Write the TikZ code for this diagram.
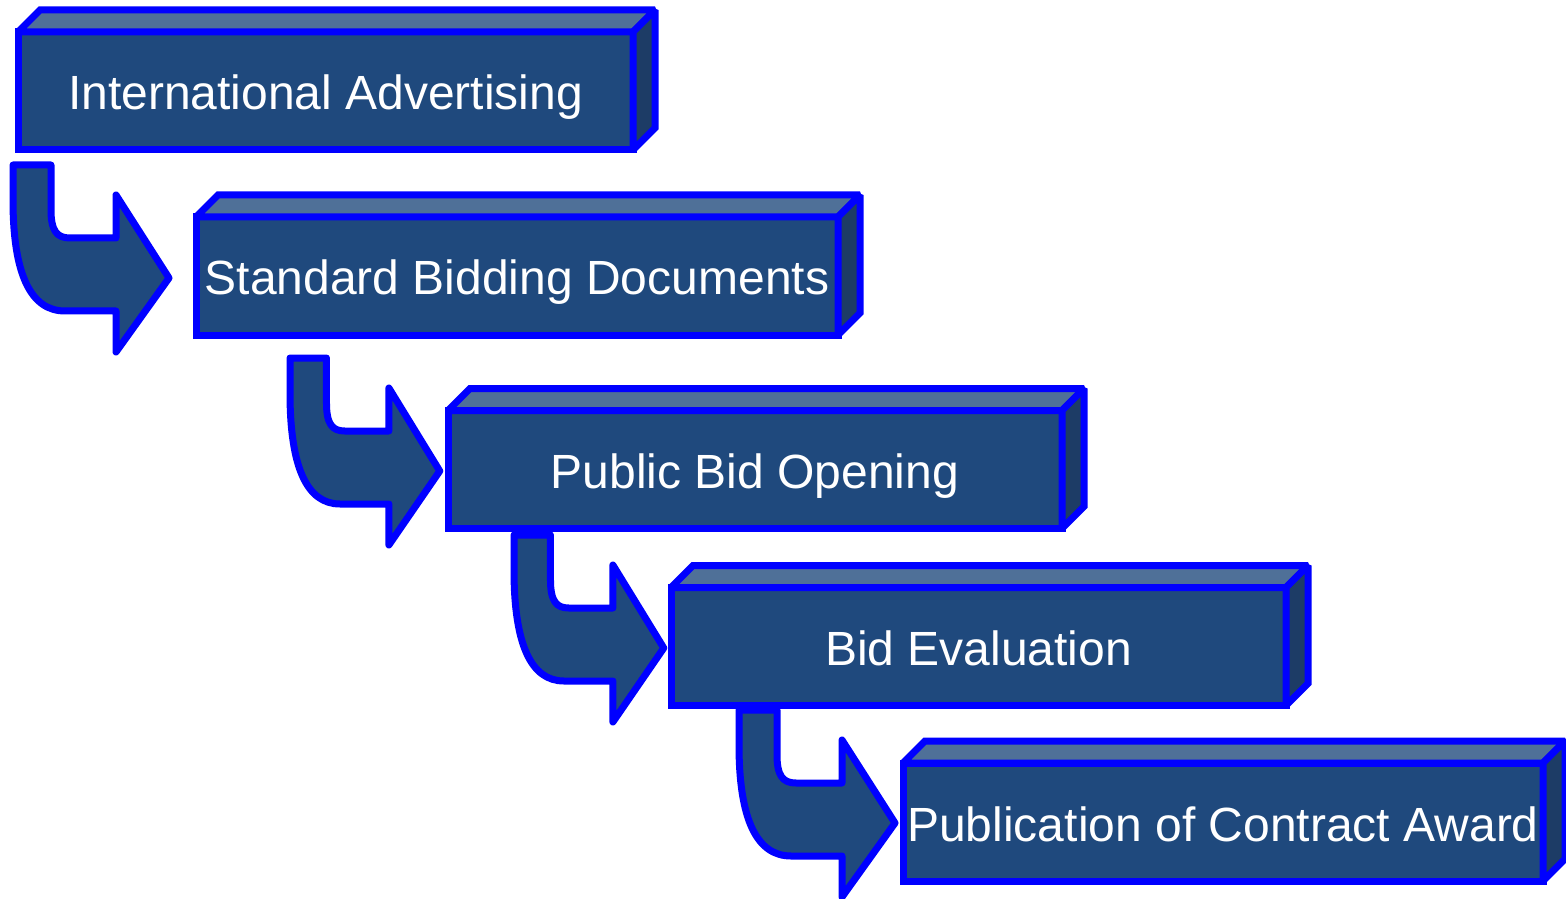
\documentclass[tikz,border=0pt]{standalone}
\usepackage{fontspec}
\setmainfont{Liberation Sans}
\definecolor{frontblue}{RGB}{31,73,125}
\definecolor{topblue}{RGB}{79,112,152}
\definecolor{sideblue}{RGB}{29,60,102}
\definecolor{edgeblue}{RGB}{0,0,255}
\tikzset{
  stagebox/.style={rectangle, draw=edgeblue, fill=frontblue, line width=3.5pt, outer sep=0pt, inner sep=0pt, minimum height=59pt, text height=20pt, text depth=1pt, text=white, font=\fontsize{24}{28}\selectfont},
  face/.style={draw=edgeblue, line width=3.5pt, line join=miter, miter limit=2},
  bentarrow/.pic={
    \draw[draw=edgeblue, fill=frontblue, line width=3.5pt, line join=round] (0,0) -- (38,0) -- (38,45) .. controls (38,66) and (44,73) .. (57,73) -- (103,73) -- (103,30) -- (156,113) -- (103,187) -- (103,146) -- (52,146) .. controls (18,146) and (0,110) .. (0,35) -- cycle;
  }
}
\newcommand{\boxfaces}[1]{
  \draw[face, fill=topblue] (#1.north west) -- ++(22,-22) -- ([shift={(22,-22)}]#1.north east) -- (#1.north east) -- cycle;
  \draw[face, fill=sideblue] (#1.north east) -- ++(22,-22) -- ([shift={(22,-22)}]#1.south east) -- (#1.south east) -- cycle;
}
\begin{document}
\begin{tikzpicture}[x=0.5pt, y=-0.5pt]
\useasboundingbox (0,0) rectangle (1566,898);
\node [stagebox, minimum width=307.5pt] (adv) at (325.5,91) {International Advertising};
\boxfaces{adv}
\node [stagebox, minimum width=321pt] (sbd) at (517,276) {Standard Bidding Documents};
\boxfaces{sbd}
\node [stagebox, minimum width=307pt] (open) at (755,469.5) {Public Bid Opening};
\boxfaces{open}
\node [stagebox, minimum width=307.5pt] (eval) at (978.5,646.5) {Bid Evaluation};
\boxfaces{eval}
\node [stagebox, minimum width=320pt] (award) at (1223,822) {Publication of Contract Award};
\boxfaces{award}
\pic at (13,165) {bentarrow};
\pic [xscale=0.96] at (290,358) {bentarrow};
\pic [xscale=0.96] at (514,535) {bentarrow};
\pic at (739,710) {bentarrow};
\end{tikzpicture}
\end{document}
